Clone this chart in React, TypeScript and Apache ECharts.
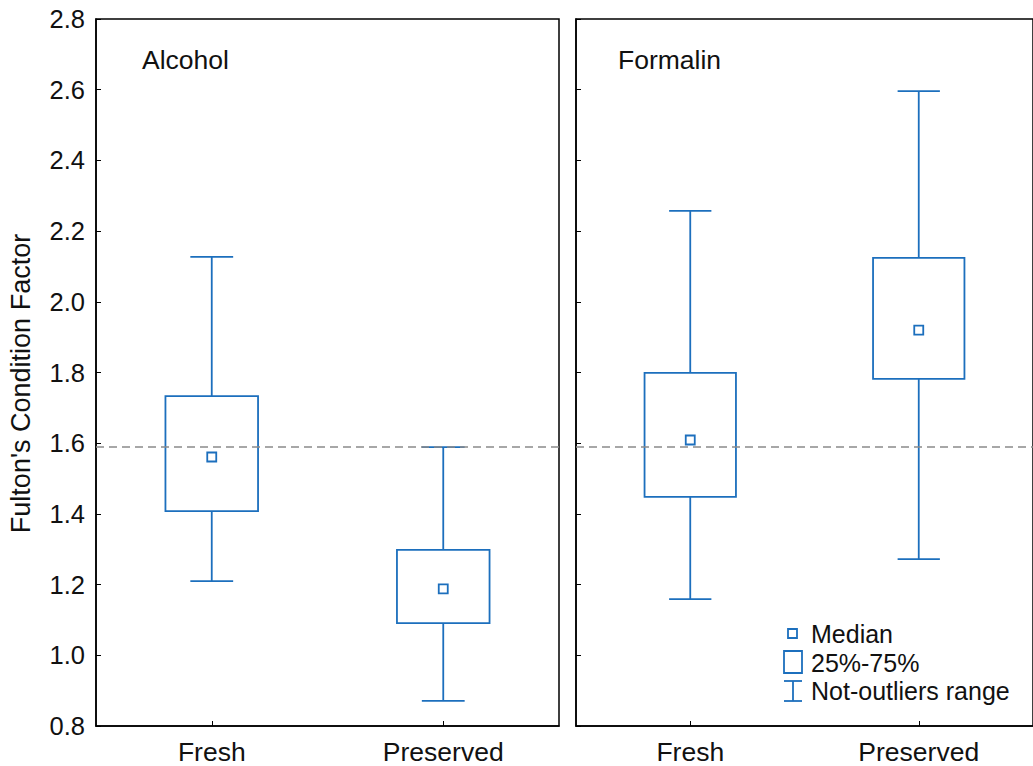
import React, { useEffect, useRef } from "react";
import * as echarts from "echarts";

// Categories and panels
const categories = ["Fresh", "Preserved"];
const panels = ["Alcohol", "Formalin"];

// Box statistics per panel: [min, q1, median, q3, max] for Fresh and Preserved
const alcoholStats = [
  [1.21, 1.408, 1.561, 1.733, 2.127],
  [0.871, 1.091, 1.188, 1.298, 1.589],
];
const formalinStats = [
  [1.159, 1.448, 1.609, 1.799, 2.257],
  [1.272, 1.782, 1.92, 2.124, 2.596],
];

// Reference level drawn across both panels
const referenceLevel = 1.59;

// Y axis range
const yMin = 0.8;
const yMax = 2.8;
const yStep = 0.2;

const BLUE = "#1c6fbd";
const FONT = "Liberation Sans, Arial, sans-serif";

function renderBox(params: any, api: any) {
  const cat = api.value(0);
  const lo = api.coord([cat, api.value(1)]);
  const q1 = api.coord([cat, api.value(2)]);
  const med = api.coord([cat, api.value(3)]);
  const q3 = api.coord([cat, api.value(4)]);
  const hi = api.coord([cat, api.value(5)]);
  const band = api.size([1, 0])[0];
  const boxW = band * 0.4;
  const capW = band * 0.185;
  const x = lo[0];
  const sq = 9;
  const ls = { stroke: BLUE, lineWidth: 1.8, fill: "none" };
  return {
    type: "group",
    children: [
      { type: "line", shape: { x1: x, y1: hi[1], x2: x, y2: q3[1] }, style: ls },
      { type: "line", shape: { x1: x, y1: q1[1], x2: x, y2: lo[1] }, style: ls },
      { type: "line", shape: { x1: x - capW / 2, y1: hi[1], x2: x + capW / 2, y2: hi[1] }, style: ls },
      { type: "line", shape: { x1: x - capW / 2, y1: lo[1], x2: x + capW / 2, y2: lo[1] }, style: ls },
      {
        type: "rect",
        shape: { x: x - boxW / 2, y: q3[1], width: boxW, height: q1[1] - q3[1] },
        style: ls,
      },
      {
        type: "rect",
        shape: { x: med[0] - sq / 2, y: med[1] - sq / 2, width: sq, height: sq },
        style: { stroke: BLUE, lineWidth: 1.8, fill: "#fff" },
      },
    ],
  };
}

export default function App() {
  const ref = useRef<HTMLDivElement>(null);

  useEffect(() => {
    if (!ref.current) return;
    const chart = echarts.init(ref.current, null, { renderer: "svg" });

    const statsByPanel = [alcoholStats, formalinStats];
    const grids = [
      { left: 96, top: 19, width: 463, height: 707 },
      { left: 576, top: 19, width: 464, height: 707 },
    ];

    const xAxes = grids.map((_, i) => ({
      type: "category",
      gridIndex: i,
      data: categories,
      boundaryGap: true,
      axisLine: { show: true, lineStyle: { color: "#000", width: 1.5 } },
      axisTick: { show: true, inside: true, alignWithLabel: true, length: 5, lineStyle: { color: "#000" } },
      axisLabel: { color: "#111", fontSize: 26.5, fontFamily: FONT, margin: 12 },
      splitLine: { show: false },
    }));

    const yAxes = grids.map((_, i) => ({
      type: "value",
      gridIndex: i,
      min: yMin,
      max: yMax,
      interval: yStep,
      name: i === 0 ? "Fulton's Condition Factor" : "",
      nameLocation: "middle",
      nameGap: 62,
      nameTextStyle: { color: "#111", fontSize: 27, fontFamily: FONT, padding: [0, 22, 0, 0] },
      axisLine: { show: true, lineStyle: { color: "#000", width: 1.5 } },
      axisTick: { show: true, inside: true, length: 5, lineStyle: { color: "#000" } },
      axisLabel: {
        show: i === 0,
        color: "#111",
        fontSize: 25.5,
        fontFamily: FONT,
        margin: 11,
        formatter: (v: number) => v.toFixed(1),
      },
      splitLine: { show: false },
    }));

    const series: any[] = [];
    statsByPanel.forEach((stats, i) => {
      series.push({
        type: "custom",
        xAxisIndex: i,
        yAxisIndex: i,
        renderItem: renderBox,
        encode: { x: 0, y: [1, 2, 3, 4, 5] },
        data: stats.map((s, c) => [c, ...s]),
        z: 3,
      });
      series.push({
        type: "line",
        xAxisIndex: i,
        yAxisIndex: i,
        data: [],
        silent: true,
        markLine: {
          symbol: "none",
          silent: true,
          label: { show: false },
          lineStyle: { color: "#8a8a8a", type: [8, 5], width: 1.5 },
          data: [{ yAxis: referenceLevel }],
        },
        z: 1,
      });
    });

    const legendText = (text: string, y: number) => ({
      type: "text",
      x: 811,
      y,
      style: { text, fontSize: 25, fontFamily: FONT, fill: "#111", verticalAlign: "middle" },
    });

    chart.setOption({
      animation: false,
      backgroundColor: "#fff",
      title: panels.map((p, i) => ({
        text: p,
        left: i === 0 ? 142 : 618,
        top: 46,
        padding: 0,
        textStyle: { color: "#111", fontSize: 26.5, fontWeight: "normal", fontFamily: FONT },
      })),
      grid: grids.map((g) => ({ ...g, show: true, borderColor: "#000", borderWidth: 1.5 })),
      xAxis: xAxes,
      yAxis: yAxes,
      series,
      graphic: [
        {
          type: "rect",
          shape: { x: 788, y: 629, width: 9, height: 9 },
          style: { stroke: BLUE, lineWidth: 1.8, fill: "#fff" },
        },
        legendText("Median", 634),
        {
          type: "rect",
          shape: { x: 784, y: 651, width: 18, height: 22 },
          style: { stroke: BLUE, lineWidth: 1.8, fill: "#fff" },
        },
        legendText("25%-75%", 663),
        { type: "line", shape: { x1: 784, y1: 681, x2: 802, y2: 681 }, style: { stroke: BLUE, lineWidth: 1.8 } },
        { type: "line", shape: { x1: 793, y1: 681, x2: 793, y2: 701 }, style: { stroke: BLUE, lineWidth: 1.8 } },
        { type: "line", shape: { x1: 784, y1: 701, x2: 802, y2: 701 }, style: { stroke: BLUE, lineWidth: 1.8 } },
        legendText("Not-outliers range", 691),
      ],
    });

    return () => chart.dispose();
  }, []);

  return <div ref={ref} style={{ width: 1033, height: 766, position: "absolute", left: 0, top: 0 }} />;
}
